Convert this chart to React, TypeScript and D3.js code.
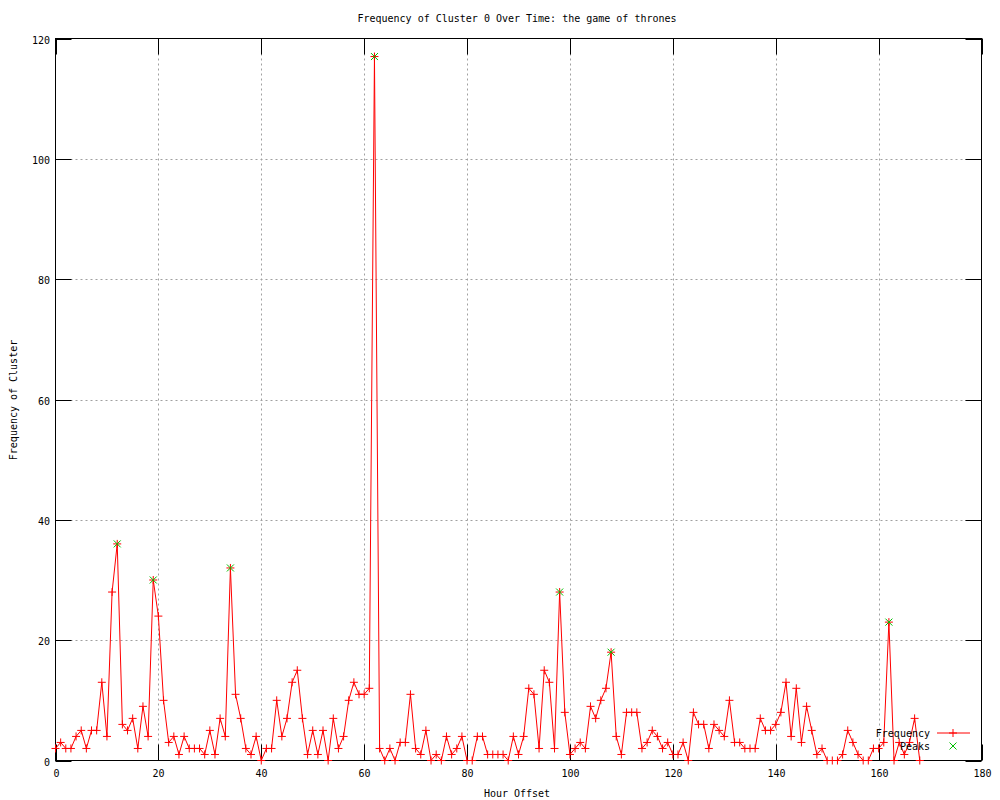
import React from "react";
import * as d3 from "d3";

const title = "Frequency of Cluster 0 Over Time: the game of thrones";
const xLabel = "Hour Offset";
const yLabel = "Frequency of Cluster";
const xTicks = [0, 20, 40, 60, 80, 100, 120, 140, 160, 180];
const yTicks = [0, 20, 40, 60, 80, 100, 120];

// frequency per hour offset (index = hour)
const frequency = [
  2, 3, 2, 2, 4, 5, 2, 5, 5, 13,
  4, 28, 36, 6, 5, 7, 2, 9, 4, 30,
  24, 10, 3, 4, 1, 4, 2, 2, 2, 1,
  5, 1, 7, 4, 32, 11, 7, 2, 1, 4,
  0, 2, 2, 10, 4, 7, 13, 15, 7, 1,
  5, 1, 5, 0, 7, 2, 4, 10, 13, 11,
  11, 12, 117, 2, 0, 2, 0, 3, 3, 11,
  2, 1, 5, 0, 1, 0, 4, 1, 2, 4,
  0, 0, 4, 4, 1, 1, 1, 1, 0, 4,
  1, 4, 12, 11, 2, 15, 13, 2, 28, 8,
  1, 2, 3, 2, 9, 7, 10, 12, 18, 4,
  1, 8, 8, 8, 2, 3, 5, 4, 2, 3,
  1, 1, 3, 0, 8, 6, 6, 2, 6, 5,
  4, 10, 3, 3, 2, 2, 2, 7, 5, 5,
  6, 8, 13, 4, 12, 3, 9, 5, 1, 2,
  0, 0, 0, 1, 5, 3, 1, 0, 0, 2,
  2, 3, 23, 0, 3, 1, 3, 7, 0,
];
const peakHours = [12, 19, 34, 62, 98, 108, 162];

const legendLabels = ["Frequency", "Peaks"];

const W = 1000;
const H = 800;
const left = 55.5;
const right = 981.5;
const top = 38.5;
const bottom = 760.5;
const TICK = 16;
const FONT = "'DejaVu Sans Mono', 'Liberation Mono', monospace";
const RED = "#ff0000";
const GREEN = "#00c000";

function Plus({ x, y, c }: { x: number; y: number; c: string }) {
  const s = 4;
  return (
    <path d={`M${x - s},${y}H${x + s}M${x},${y - s}V${y + s}`} stroke={c} strokeWidth={1} fill="none" />
  );
}
function Cross({ x, y, c }: { x: number; y: number; c: string }) {
  const s = 3.5;
  return (
    <path d={`M${x - s},${y - s}L${x + s},${y + s}M${x - s},${y + s}L${x + s},${y - s}`} stroke={c} strokeWidth={1} fill="none" />
  );
}

export default function App() {
  const x = d3.scaleLinear().domain([0, 180]).range([left, right]);
  const y = d3.scaleLinear().domain([0, 120]).range([bottom, top]);
  const pts = frequency.map((v, i) => [x(i), y(v)] as [number, number]);
  const line = d3.line()(pts) || "";

  return (
    <svg width={W} height={H} style={{ position: "absolute", left: 0, top: 0, background: "#fff" }}
      fontFamily={FONT} fontSize={10}>
      <rect x={0} y={0} width={W} height={H} fill="#fff" />
      {/* grid */}
      {xTicks.slice(1, -1).map((t) => (
        <line key={"gx" + t} x1={Math.round(x(t)) + 0.5} x2={Math.round(x(t)) + 0.5} y1={top} y2={bottom}
          stroke="#a0a0a0" strokeDasharray="2,3" />
      ))}
      {yTicks.slice(1, -1).map((t) => (
        <line key={"gy" + t} x1={left} x2={right} y1={Math.round(y(t)) + 0.5} y2={Math.round(y(t)) + 0.5}
          stroke="#a0a0a0" strokeDasharray="2,3" />
      ))}
      {/* border */}
      <rect x={left} y={top} width={right - left} height={bottom - top} fill="none" stroke="#000" />
      {/* ticks */}
      {xTicks.map((t) => {
        const px = Math.round(x(t)) + 0.5;
        return (
          <g key={"tx" + t}>
            <line x1={px} x2={px} y1={bottom} y2={bottom - TICK} stroke="#000" />
            <line x1={px} x2={px} y1={top} y2={top + TICK} stroke="#000" />
            <text x={px} y={777} textAnchor="middle" fill="#000">{t}</text>
          </g>
        );
      })}
      {yTicks.map((t) => {
        const py = Math.round(y(t)) + 0.5;
        return (
          <g key={"ty" + t}>
            <line x1={left} x2={left + TICK} y1={py} y2={py} stroke="#000" />
            <line x1={right} x2={right - TICK} y1={py} y2={py} stroke="#000" />
            <text x={50} y={py + 4} textAnchor="end" fill="#000">{t}</text>
          </g>
        );
      })}
      {/* data */}
      <path d={line} fill="none" stroke={RED} strokeWidth={1} />
      {pts.map(([px, py], i) => (
        <Plus key={"p" + i} x={px} y={py} c={RED} />
      ))}
      {peakHours.map((h) => (
        <Cross key={"k" + h} x={x(h)} y={y(frequency[h])} c={GREEN} />
      ))}
      {/* labels */}
      <text x={517} y={22} textAnchor="middle" fill="#000">{title}</text>
      <text x={517} y={797} textAnchor="middle" fill="#000">{xLabel}</text>
      <text transform="translate(17,400) rotate(-90)" textAnchor="middle" fill="#000">{yLabel}</text>
      {/* legend */}
      <text x={930} y={737} textAnchor="end" fill="#000">{legendLabels[0]}</text>
      <line x1={937} x2={970} y1={733} y2={733} stroke={RED} />
      <Plus x={953} y={733} c={RED} />
      <text x={930} y={750} textAnchor="end" fill="#000">{legendLabels[1]}</text>
      <Cross x={953} y={746} c={GREEN} />
    </svg>
  );
}
